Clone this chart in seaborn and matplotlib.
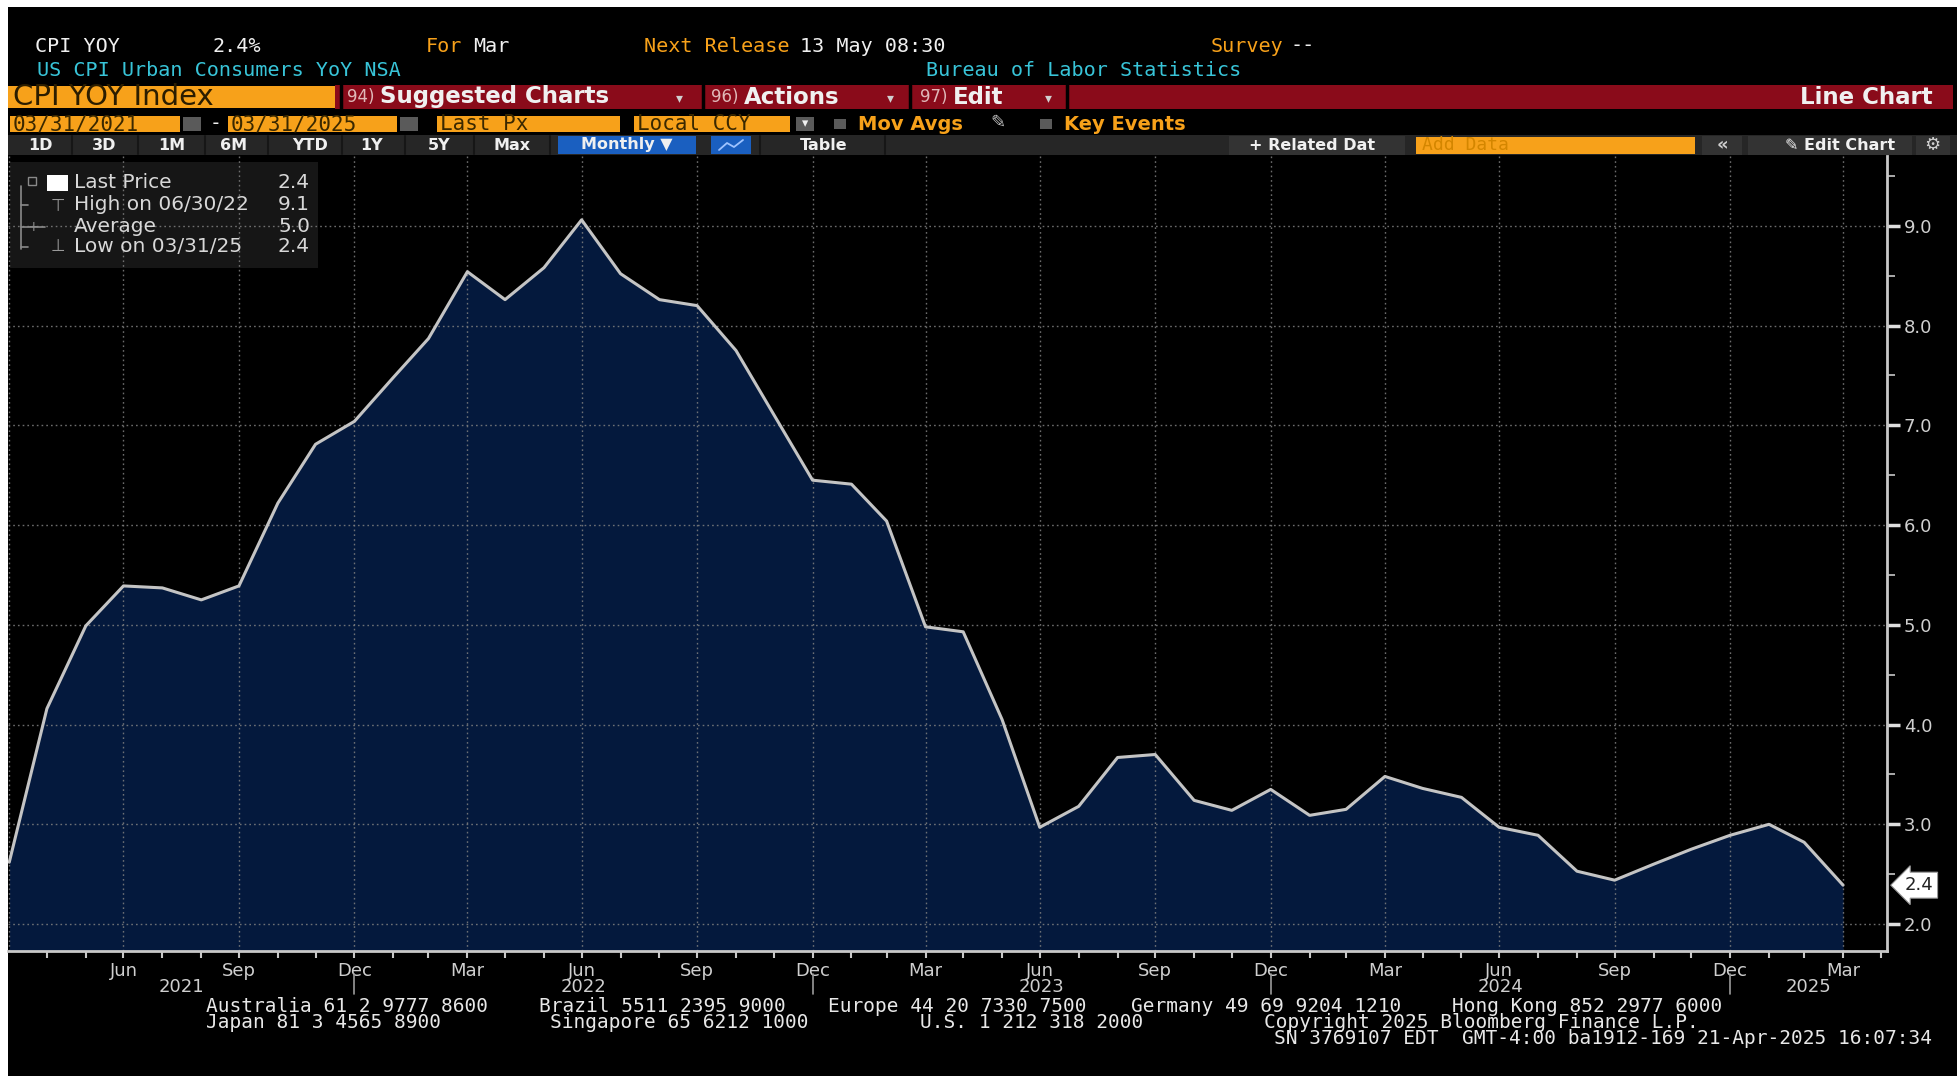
import numpy as np
import pandas as pd
import matplotlib
matplotlib.use("Agg")
import matplotlib.pyplot as plt
import matplotlib.dates as mdates
import matplotlib.transforms as mtransforms
from matplotlib.patches import Rectangle
from matplotlib.lines import Line2D
import seaborn as sns

# US CPI Urban Consumers YoY NSA, month-end values Mar 2021 .. Mar 2025
months = pd.date_range("2021-03-31", "2025-03-31", freq="ME")
cpi_yoy = [2.62, 4.16, 4.99, 5.39, 5.37, 5.25, 5.39, 6.22, 6.81, 7.04,
           7.48, 7.87, 8.54, 8.26, 8.58, 9.06, 8.52, 8.26, 8.20, 7.75, 7.11, 6.45,
           6.41, 6.04, 4.98, 4.93, 4.05, 2.97, 3.18, 3.67, 3.70, 3.24, 3.14, 3.35,
           3.09, 3.15, 3.48, 3.36, 3.27, 2.97, 2.89, 2.53, 2.44, 2.60, 2.75, 2.89,
           3.00, 2.82, 2.39]
y_ticks = [2, 3, 4, 5, 6, 7, 8, 9]
y_minor = [2.5, 3.5, 4.5, 5.5, 6.5, 7.5, 8.5, 9.5]
year_labels = ["2021", "2022", "2023", "2024", "2025"]

footer_1 = [("Australia 61 2 9777 8600", 206), ("Brazil 5511 2395 9000", 539),
            ("Europe 44 20 7330 7500", 828), ("Germany 49 69 9204 1210", 1131),
            ("Hong Kong 852 2977 6000", 1452)]
footer_2 = [("Japan 81 3 4565 8900", 206), ("Singapore 65 6212 1000", 550),
            ("U.S. 1 212 318 2000", 920), ("Copyright 2025 Bloomberg Finance L.P.", 1264)]
footer_3 = "SN 3769107 EDT  GMT-4:00 ba1912-169 21-Apr-2025 16:07:34"

df = pd.DataFrame({"date": months, "cpi": cpi_yoy})

sns.set_theme(style="dark")
plt.rcParams["font.family"] = ["DejaVu Sans"]

W, H = 1957, 1076
ORANGE = "#f7a11a"
WHITE = "#f0f0f0"
CYAN = "#38c4d8"
MONO = "DejaVu Sans Mono"


def fx(x):
    return x / W


def fy(y):
    return 1 - y / H


fig = plt.figure(figsize=(W / 100, H / 100), dpi=100, facecolor="white")


def frect(x0, y0, x1, y1, color, z=-1, **kw):
    fig.add_artist(Rectangle((fx(x0), fy(y1)), fx(x1) - fx(x0), fy(y0) - fy(y1),
                             transform=fig.transFigure, facecolor=color,
                             edgecolor="none", zorder=z, **kw))


def ftext(x, y, s, **kw):
    kw.setdefault("va", "center")
    kw.setdefault("color", WHITE)
    fig.text(fx(x), fy(y), s, **kw)


def fline(xs, ys, color, lw=1.2):
    fig.add_artist(Line2D([fx(v) for v in xs], [fy(v) for v in ys],
                          transform=fig.transFigure, color=color, lw=lw))


# terminal background
frect(8, 7, W, H, "black", z=-5)

# -------------------------
# Header rows
# -------------------------
ftext(35, 46, "CPI YOY", family=MONO, size=14.5)
ftext(212, 46, "2.4%", family=MONO, size=14.5)
ftext(426, 46, "For", family=MONO, size=14.5, color=ORANGE)
ftext(473, 46, "Mar", family=MONO, size=14.5)
ftext(644, 46, "Next Release", family=MONO, size=14.5, color=ORANGE)
ftext(800, 46, "13 May 08:30", family=MONO, size=14.5)
ftext(1211, 46, "Survey", family=MONO, size=14.5, color=ORANGE)
ftext(1290, 46, "--", family=MONO, size=14.5)
ftext(37, 70, "US CPI Urban Consumers YoY NSA", family=MONO, size=14.5, color=CYAN)
ftext(926, 70, "Bureau of Labor Statistics", family=MONO, size=14.5, color=CYAN)

# red menu bar
frect(335, 85, 1953, 109, "#8a0b1a")
frect(8, 86, 335, 108, ORANGE)
ftext(13, 97, "CPI YOY Index", size=21, color="#2b1d00")
for sx in [341, 703, 910, 1067]:
    fline([sx, sx], [85, 109], "black", lw=2.5)
for num, label, x0, arrow_x in [("94)", "Suggested Charts", 347, 676),
                                 ("96)", "Actions", 711, 887),
                                 ("97)", "Edit", 920, 1045)]:
    ftext(x0, 97, num, size=12, color="#e0b8b8")
    ftext(x0 + 33, 97, label, size=16.5, weight="bold")
    ftext(arrow_x, 98, "\u25be", size=10, color="#d0d0d0")
ftext(1933, 97, "Line Chart", size=16.5, weight="bold", ha="right")

# date / field row
for x0, x1, label in [(10, 180, "03/31/2021"), (228, 397, "03/31/2025"),
                      (437, 620, "Last Px"), (634, 790, "Local CCY")]:
    frect(x0, 116, x1, 132, ORANGE)
    ftext(x0 + 3, 124, label, family=MONO, size=15, color="#3a2800")
for x0 in [183, 400, 796]:
    frect(x0, 117, x0 + 18, 131, "#5a5a5a")
ftext(805, 124, "\u25be", size=9, ha="center")
ftext(210, 124, "-", family=MONO, size=14)
frect(834, 119, 846, 129, "#5a5a5a")
ftext(858, 124, "Mov Avgs", size=14, weight="bold", color=ORANGE)
ftext(990, 123, "\u270e", size=13, color="#bbbbbb")
frect(1040, 119, 1052, 129, "#5a5a5a")
ftext(1064, 124, "Key Events", size=14, weight="bold", color=ORANGE)

# toolbar row
frect(8, 135, W, 155, "#262626")
for cx, label in [(40, "1D"), (104, "3D"), (172, "1M"), (234, "6M"), (310, "YTD"),
                  (371, "1Y"), (439, "5Y"), (512, "Max"), (824, "Table")]:
    ftext(cx, 145, label, size=11.5, weight="bold", ha="center")
for sx in [72, 138, 205, 268, 342, 405, 474, 550, 760, 885]:
    fline([sx, sx], [136, 154], "#161616", lw=1.5)
frect(558, 136, 696, 154, "#1a5fc0")
ftext(627, 145, "Monthly \u25bc", size=11.5, weight="bold", ha="center")
frect(711, 136, 751, 154, "#1a5fc0")
fline([719, 727, 734, 743], [150, 143, 147, 140], "#9ec3ff", lw=1.3)
frect(1229, 136, 1405, 155, "#333333")
ftext(1312, 145, "+ Related Dat", size=11.5, weight="bold", ha="center")
frect(1416, 137, 1695, 154, ORANGE)
ftext(1422, 145, "Add Data", family=MONO, size=13, color="#d48600")
frect(1702, 136, 1742, 155, "#333333")
ftext(1722, 145, "\u00ab", size=13, weight="bold", ha="center", color="#d0d0d0")
frect(1748, 136, 1912, 155, "#333333")
ftext(1840, 145, "\u270e Edit Chart", size=11.5, weight="bold", ha="center")
frect(1916, 136, 1950, 155, "#333333")
ftext(1932, 145, "\u2699", size=13, ha="center", color="#d0d0d0")

# -------------------------
# Chart
# -------------------------
ax = fig.add_axes([fx(8), fy(951), fx(1887) - fx(8), fy(156) - fy(951)])
ax.set_facecolor("black")
y_bottom, y_top = 1.73, 9.70

ax.fill_between(df["date"], df["cpi"], y_bottom, color="#04193d", lw=0, zorder=1)
sns.lineplot(data=df, x="date", y="cpi", ax=ax, color="#c4c4c4",
             linewidth=2.2, zorder=3)

# legend panel (drawn inside the axes so grid shows through)
ax.add_patch(Rectangle((fx(10), fy(268)), fx(318) - fx(10), fy(162) - fy(268),
                       transform=fig.transFigure, facecolor="#161616",
                       edgecolor="none", zorder=1.5))

dotted = dict(color="#808080", lw=1.0, ls=(0, (1.2, 2.2)), alpha=0.85, zorder=2)
for d in months[::3]:
    ax.axvline(d, **dotted)
for v in y_ticks:
    ax.axhline(v, **dotted)

x_left = pd.Timestamp("2021-03-30")
x_right = pd.Timestamp("2025-05-05")
ax.set_xlim(x_left, x_right)
ax.set_ylim(y_bottom, y_top)
ax.set_xlabel("")
ax.set_ylabel("")
ax.grid(False)

for side in ["top", "left"]:
    ax.spines[side].set_visible(False)
for side in ["right", "bottom"]:
    ax.spines[side].set_visible(True)
    ax.spines[side].set_color("#c8c8c8")
    ax.spines[side].set_linewidth(2)

ax.yaxis.tick_right()
ax.set_yticks(y_ticks, [f"{v:.1f}" for v in y_ticks])
ax.set_yticks(y_minor, minor=True)
ax.tick_params(axis="y", which="major", right=True, length=9, width=2.5,
               color="#e0e0e0", labelcolor="#cfcfcf", labelsize=13, pad=3)
ax.tick_params(axis="y", which="minor", right=True, length=6, width=1.2,
               color="#c8c8c8")

quarters = months[3::3]
ax.set_xticks(quarters, [d.strftime("%b") for d in quarters])
ax.set_xticks(pd.date_range("2021-04-30", "2025-04-30", freq="ME"), minor=True)
ax.tick_params(axis="x", which="both", bottom=True, length=5, width=1.5,
               color="#c8c8c8", labelcolor="#cfcfcf", labelsize=13, pad=3)

# year labels centred on each year's visible span, with separators at year ends
trans = mtransforms.blended_transform_factory(ax.transData, fig.transFigure)
year_ends = [pd.Timestamp(f"{y}-12-31") for y in year_labels[:-1]]
bounds = [mdates.date2num(d) for d in [x_left] + year_ends + [x_right]]
for i, label in enumerate(year_labels):
    ax.text((bounds[i] + bounds[i + 1]) / 2, fy(987), label, transform=trans,
            ha="center", va="center", color="#cfcfcf", size=13)
for d in year_ends:
    x = mdates.date2num(d)
    ax.plot([x, x], [fy(974), fy(994)], transform=trans, color="#9a9a9a",
            lw=1.2, clip_on=False)

# last value marker on the price axis
last = df["cpi"].iloc[-1]
ytrans = mtransforms.blended_transform_factory(ax.transAxes, ax.transData)
ax.text(1.0095, last, f"{last:.1f}", transform=ytrans, ha="left", va="center",
        size=13, color="#222222", zorder=6,
        bbox=dict(boxstyle="larrow,pad=0.22", fc="white", ec="#999999", lw=0.8))

# legend content computed from the series
hi = df.loc[df["cpi"].idxmax()]
lo = df.loc[df["cpi"].idxmin()]
rows = [("Last Price", last, 183),
        (f"High on {hi['date']:%m/%d/%y}", hi["cpi"], 205),
        ("Average", df["cpi"].mean(), 227),
        (f"Low on {lo['date']:%m/%d/%y}", lo["cpi"], 247)]
for label, val, y in rows:
    ftext(74, y, label, size=14.5, color="#d8d8d8")
    ftext(310, y, f"{val:.1f}", size=14.5, color="#d8d8d8", ha="right")
frect(47, 175, 68, 191, "white", z=5)
fig.add_artist(Rectangle((fx(28), fy(185)), fx(36) - fx(28), fy(177) - fy(185),
                         transform=fig.transFigure, facecolor="none",
                         edgecolor="#8a8a8a", lw=1, zorder=5))
fline([21, 21], [186, 249], "#8a8a8a")
for y in [205, 247]:
    fline([21, 28], [y, y], "#8a8a8a")
fline([21, 45], [227, 227], "#8a8a8a")
ftext(33, 227, "+", size=10, color="#8a8a8a", ha="center")
ftext(58, 205, "\u22a4", size=12, color="#9a9a9a", ha="center")
ftext(58, 246, "\u22a5", size=12, color="#9a9a9a", ha="center")

# -------------------------
# Footer
# -------------------------
for text, x in footer_1:
    ftext(x, 1006, text, family=MONO, size=14, color="#e8e8e8")
for text, x in footer_2:
    ftext(x, 1022, text, family=MONO, size=14, color="#e8e8e8")
ftext(1932, 1038, footer_3, family=MONO, size=14, color="#e8e8e8", ha="right")

fig.savefig("out.png", dpi=100, facecolor=fig.get_facecolor())
